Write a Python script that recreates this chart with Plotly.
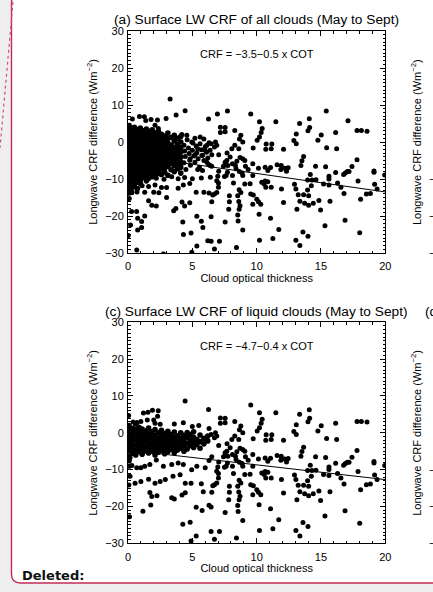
import plotly.graph_objects as go

W, H = 433, 592
FONT = "Liberation Sans, Arial, Helvetica, sans-serif"

# ---------------- data ----------------
titles = ["(a) Surface LW CRF of all clouds (May to Sept)",
          "(c) Surface LW CRF of liquid clouds (May to Sept)"]
fit_labels = ["CRF = \u22123.5\u22120.5 x COT", "CRF = \u22124.7\u22120.4 x COT"]
intercepts = [-3.5, -4.7]
slopes = [-0.5, -0.4]
x_ticks = [0, 5, 10, 15, 20]
y_ticks = [-30, -20, -10, 0, 10, 20, 30]

# points with COT > ~6.4 common to both panels
pts_shared = [
    (9.54, 7.56), (10.22, 5.47), (11.49, 5.47), (7.55, 3.92), (7.18, 4.01), (8.30, 3.10), (7.18, 2.56),
    (7.55, 2.74), (8.77, 1.83), (10.43, 3.65), (10.35, 2.56), (10.22, 1.38), (10.04, 0.47), (12.89, 0.38),
    (8.66, 0.83), (8.92, 0.01), (8.30, -0.90), (6.90, -0.90), (6.46, -0.44), (6.80, 0.01), (6.72, -1.35),
    (8.07, -1.81), (8.61, -1.81), (9.73, -1.62), (10.74, -0.53), (11.18, -0.53), (11.13, -1.81),
    (12.09, -1.99), (10.71, -1.99), (7.05, -3.44), (7.70, -2.99), (7.94, -4.08), (7.68, -4.99),
    (8.71, -4.17), (8.92, -4.53), (9.08, -4.99), (8.46, -5.17), (7.55, -5.44), (7.55, -6.08),
    (7.42, -6.53), (7.76, -6.35), (8.12, -5.90), (8.35, -6.35), (8.40, -7.26), (8.66, -7.99),
    (8.87, -8.35), (9.13, -6.53), (9.34, -7.44), (9.70, -5.90), (10.14, -7.08), (10.66, -6.81),
    (10.87, -7.72), (11.08, -6.90), (11.59, -6.17), (11.91, -6.35), (11.88, -7.44), (12.19, -7.08),
    (12.45, -6.99), (12.32, -7.90), (6.51, -6.53), (7.05, -7.90), (7.50, -9.35), (6.98, -9.26),
    (7.63, -9.08), (8.12, -9.08), (7.73, -8.17), (8.92, -9.08), (9.49, -11.26), (9.70, -9.08),
    (9.08, -11.35), (10.40, -10.90), (10.66, -10.53), (10.58, -11.35), (10.71, -12.26), (11.13, -12.26),
    (10.87, -10.71), (11.93, -12.71), (12.94, -11.44), (13.05, -12.71), (6.90, -10.44), (7.03, -11.08),
    (7.03, -12.26), (6.90, -13.62), (6.72, -14.08), (6.59, -14.35), (8.20, -11.08), (8.64, -12.90),
    (8.77, -13.62), (7.88, -14.53), (8.53, -14.53), (8.61, -16.08), (9.54, -14.08), (9.75, -14.35),
    (10.01, -15.44), (10.14, -16.17), (10.32, -16.81), (9.70, -16.81), (7.88, -16.17), (6.51, -16.17),
    (7.83, -18.17), (8.71, -17.26), (8.64, -18.17), (8.53, -19.71), (10.19, -19.53), (11.08, -20.62),
    (12.09, -16.35), (7.55, -21.62), (8.56, -21.35), (8.92, -23.81), (11.72, -23.62), (6.46, -20.17),
    (6.46, -26.80), (7.11, -26.80), (10.22, -26.53), (11.26, -26.08), (6.72, -28.90), (8.43, -28.53),
    (17.80, 3.10), (18.14, 3.10), (18.58, 2.92), (14.09, 6.29), (14.12, 3.92), (13.99, 3.01),
    (13.34, 5.01), (13.08, 2.19), (13.08, -0.44), (15.02, 1.92), (14.76, 0.47), (16.14, 2.56),
    (15.44, -1.53), (16.22, -1.81), (13.65, -3.90), (13.52, -5.08), (13.44, -6.35), (17.80, -4.81),
    (14.58, -6.53), (15.36, -6.71), (14.17, -8.81), (16.14, -8.26), (15.62, -9.26), (15.62, -9.99),
    (15.62, -11.62), (16.76, -8.81), (16.89, -8.35), (17.05, -7.99), (17.18, -7.99), (17.41, -6.62),
    (19.12, -7.81), (19.12, -8.17), (19.95, -8.90), (13.96, -10.26), (14.30, -10.26), (14.61, -10.17),
    (17.88, -10.53), (14.25, -11.80), (15.20, -11.35), (16.29, -11.08), (16.55, -12.26), (19.17, -11.44),
    (19.36, -12.71), (13.96, -12.99), (13.65, -14.26), (13.23, -14.26), (14.04, -14.53), (16.79, -13.90),
    (18.53, -14.08), (18.84, -13.90), (18.08, -15.44), (13.36, -15.99), (13.73, -16.53), (14.04, -17.08),
    (14.40, -16.53), (14.84, -15.81), (15.70, -15.99), (13.13, -18.17), (14.97, -18.35), (16.87, -21.17),
    (15.31, -22.62), (18.01, -24.53), (13.60, -24.35), (13.99, -25.44), (13.05, -26.53), (13.36, -27.99),
]

# panel (a): extra points only found there
pts_a_extra = [
    (15.41, 8.38), (17.10, 5.74), (7.73, 8.38), (6.95, 7.56),
    (3.27, 11.65), (4.44, 8.47), (3.74, 7.29), (0.89, 6.92), (1.27, 6.83), (1.79, 6.10), (2.29, 5.92),
    (2.96, 6.38), (1.38, 5.83), (0.34, 6.19), (0.11, 4.56), (2.10, 4.56), (2.36, 3.65), (1.85, 3.29),
    (6.26, 6.19), (4.18, 2.01), (4.57, 1.83), (3.79, 1.10), (4.96, -0.01), (5.61, 1.38), (6.13, -0.90),
    (5.42, -1.81), (5.99, -2.26), (6.38, -2.26), (5.22, -3.44), (5.74, -3.62), (6.51, -3.44),
    (4.83, -4.53), (6.13, -5.44), (6.38, -6.35), (5.42, -7.44), (5.79, -7.72),
    (4.35, -0.9), (4.40, -2.4), (4.45, -3.9), (4.35, -5.6), (4.50, -7.4), (4.60, 0.6), (4.70, -1.6),
    (4.75, -3.1), (4.80, -4.9), (4.85, -6.3), (5.00, -2.2), (5.05, -0.3), (5.10, -3.8), (5.20, -5.5),
    (5.30, -1.1), (5.35, -2.9), (5.45, -4.5), (5.55, -6.8), (5.60, -0.5), (5.70, -2.1), (5.80, -3.6),
    (5.90, -5.0), (6.00, -1.3), (6.10, -2.8), (6.20, -4.3), (6.30, -0.2), (6.25, -6.0), (5.20, 1.0),
    (5.90, 0.8),
    (0.5, -10.6), (1.0, -10.2), (1.6, -9.9), (2.2, -9.8), (2.8, -10.1), (3.4, -9.4), (3.9, -9.9),
    (4.4, -9.6), (5.0, -9.9), (5.7, -9.7), (6.4, -9.5),
    (0.2, -11.5), (0.65, -11.0), (1.1, -11.8), (1.6, -12.0), (2.1, -11.6), (2.6, -12.3), (3.0, -12.3),
    (3.9, -12.5), (4.3, -11.6), (4.8, -11.2), (5.3, -13.6), (5.9, -13.6), (6.3, -13.8),
    (0.3, -13.7), (0.7, -13.5), (1.3, -13.6), (2.0, -13.6), (2.4, -13.7),
    (0.1, -15.3), (1.6, -15.9), (1.85, -17.1), (2.2, -17.3), (3.0, -15.0), (4.2, -16.2), (4.4, -17.3),
    (4.8, -16.4), (0.28, -18.8), (0.67, -18.8), (1.3, -20.0), (3.55, -18.6), (3.72, -18.0),
    (0.75, -20.6), (1.06, -21.5), (4.26, -21.6), (5.35, -20.1), (5.7, -21.4),
    (0.2, -22.4), (0.75, -23.8), (1.06, -23.1), (5.82, -23.1),
    (4.9, -24.6), (4.31, -25.0), (0.02, -25.3),
    (6.2, -26.7), (5.35, -28.1), (0.68, -29.2), (2.75, -30.3), (4.96, -29.8),
]

# panel (a): dense cloud at small COT, (COT, [CRF values])
dense_a = [
    (0.06, [4.2, 3.1, 2.0, 0.8, -0.3, -1.4, -2.6, -3.7, -4.8, -5.9, -7.1, -8.2, -9.3, -10.4, -11.6, -12.7, -13.8]),
    (0.28, [3.6, 2.5, 1.3, 0.2, -0.9, -2.0, -3.1, -4.2, -5.4, -6.5, -7.6, -8.8, -9.9, -11.0, -12.2, -13.4]),
    (0.50, [4.0, 2.9, 1.7, 0.6, -0.5, -1.7, -2.8, -3.9, -5.0, -6.2, -7.3, -8.4, -9.6, -10.8, -12.1]),
    (0.73, [3.3, 2.2, 1.0, -0.1, -1.2, -2.3, -3.5, -4.6, -5.7, -6.9, -8.0, -9.1, -10.3, -12.6]),
    (0.96, [3.8, 2.6, 1.5, 0.3, -0.8, -1.9, -3.0, -4.2, -5.3, -6.4, -7.6, -8.7, -9.8, -11.2]),
    (1.19, [3.0, 1.9, 0.8, -0.4, -1.5, -2.6, -3.8, -4.9, -6.0, -7.2, -8.3, -9.5]),
    (1.43, [3.5, 2.3, 1.2, 0.0, -1.1, -2.2, -3.4, -4.5, -5.6, -6.8, -7.9, -9.0, -10.5]),
    (1.66, [2.8, 1.6, 0.5, -0.6, -1.8, -2.9, -4.0, -5.2, -6.3, -7.4, -8.6]),
    (1.89, [3.2, 2.0, 0.9, -0.2, -1.3, -2.5, -3.6, -4.7, -5.9, -7.0, -8.1, -9.4]),
    (2.13, [2.5, 1.3, 0.1, -1.0, -2.1, -3.3, -4.4, -5.5, -6.7, -7.8, -9.0]),
    (2.36, [2.9, 1.7, 0.4, -0.7, -1.9, -3.0, -4.1, -5.3, -6.4, -7.6, -8.5]),
    (2.60, [2.1, 0.8, -0.5, -1.6, -2.8, -4.0, -5.1, -6.1, -7.3, -8.8]),
    (2.85, [1.6, 0.2, -1.2, -2.4, -3.5, -4.8, -6.0, -7.0, -8.2]),
    (3.10, [2.4, 1.0, -0.3, -1.8, -3.0, -4.3, -5.5, -6.6, -9.0]),
    (3.35, [1.2, -0.8, -2.1, -3.4, -4.6, -5.8, -7.5]),
    (3.60, [1.8, 0.3, -1.4, -2.7, -3.9, -5.2, -6.4, -8.0]),
    (3.85, [0.9, -0.6, -2.0, -3.3, -4.5, -6.0, -7.2]),
    (4.10, [1.5, 0.0, -1.5, -2.8, -4.1, -5.5, -6.8, -8.4]),
]

# panel (c): extra points at small COT
pts_c_extra = [
    (0.05, 4.7), (0.4, 2.9), (0.7, 2.8), (1.0, 3.1), (1.2, 5.4), (1.5, 3.5), (1.55, 5.6), (1.9, 6.1),
    (2.0, 3.5), (2.3, 4.5), (2.35, 6.0), (2.1, 2.6), (2.5, 2.3), (3.6, 2.4), (4.3, 2.7), (4.44, 8.6),
    (5.0, 1.7), (5.5, 2.0), (6.26, 6.3), (6.3, 1.2),
    (0.16, -6.8), (0.11, -9.1), (0.68, -9.5), (1.0, -9.5), (1.3, -9.1), (1.7, -8.6), (2.2, -7.4),
    (2.75, -9.1), (3.4, -8.6), (3.9, -8.2), (4.3, -8.6), (4.95, -10.0), (5.35, -9.1), (6.0, -9.5),
    (6.3, -7.5), (0.3, -8.9),
    (0.16, -11.8), (0.55, -13.7), (1.0, -13.2), (1.6, -12.6), (2.1, -13.7), (2.5, -13.2), (2.9, -12.7),
    (3.5, -11.8), (4.05, -11.4), (4.45, -13.7), (4.9, -13.7), (5.7, -13.8),
    (0.07, -14.2), (1.7, -16.2), (1.85, -17.3), (2.25, -17.1), (3.4, -17.6), (3.6, -18.0), (4.2, -16.9),
    (4.45, -16.3), (5.85, -16.0),
    (0.12, -22.8), (1.16, -21.3), (1.77, -19.6), (5.3, -20.2), (5.76, -21.1), (6.3, -19.7),
    (4.26, -24.8), (4.83, -24.3), (4.9, -29.4), (5.3, -28.0),
]

dense_c = [
    (0.08, [2.0, 0.6, -0.8, -2.1, -3.5, -4.8, -6.3, -7.6]),
    (0.35, [1.2, -0.2, -1.5, -2.9, -4.2, -5.6]),
    (0.60, [2.4, 0.8, -0.6, -1.9, -3.3, -4.6, -6.0]),
    (0.85, [1.5, 0.1, -1.2, -2.6, -3.9, -5.1]),
    (1.10, [1.0, -0.4, -1.8, -3.1, -4.4, -5.8]),
    (1.35, [0.5, -0.9, -2.2, -3.6, -4.9]),
    (1.60, [1.3, -0.1, -1.4, -2.8, -4.1, -5.5]),
    (1.85, [0.3, -1.0, -2.4, -3.7, -5.0]),
    (2.10, [0.9, -0.6, -1.9, -3.2, -4.6, -6.0]),
    (2.35, [0.0, -1.4, -2.7, -4.0, -5.3]),
    (2.60, [0.7, -0.8, -2.1, -3.5, -4.8]),
    (2.85, [-0.2, -1.6, -2.9, -4.3, -5.7]),
    (3.10, [0.4, -1.1, -2.4, -3.8, -5.1]),
    (3.35, [-0.5, -1.8, -3.2, -4.5]),
    (3.60, [0.2, -1.3, -2.6, -4.0, -5.4]),
    (3.85, [-0.8, -2.0, -3.4, -4.7]),
    (4.10, [0.0, -1.5, -2.8, -4.2]),
    (4.35, [-0.7, -2.2, -3.6, -5.0]),
    (4.60, [0.1, -1.3, -2.9, -4.4]),
    (4.85, [-0.5, -2.0, -3.5]),
    (5.10, [0.3, -1.2, -2.6, -4.0]),
    (5.35, [-1.8, -3.2]),
    (5.60, [-0.6, -2.4, -4.2]),
    (5.90, [-1.5, -3.0]),
    (6.20, [-0.9, -2.2]),
]


def flatten(cols):
    return [(c, v) for c, vals in cols for v in vals]


def unzip(pts):
    return [p[0] for p in pts], [p[1] for p in pts]


panels_sparse = [pts_shared + pts_a_extra, pts_shared + pts_c_extra]
panels_dense = [flatten(dense_a), flatten(dense_c)]

# ---------------- layout geometry (pixels) ----------------
X_L, X_R = 128, 385.3
ROWS = [(31, 253), (322.3, 543.3)]


def px(x):
    return x / W


def py(y):
    return 1 - y / H


fig = go.Figure()

for i in range(2):
    sx = "" if i == 0 else str(i + 1)
    for pts, size in ((panels_dense[i], 5.6), (panels_sparse[i], 5.0)):
        cx, cy = unzip(pts)
        fig.add_trace(go.Scatter(x=cx, y=cy, mode="markers", xaxis="x" + sx, yaxis="y" + sx,
                                 marker=dict(size=size, color="black", line=dict(width=0)),
                                 showlegend=False, hoverinfo="skip"))
    lx = [x_ticks[0], x_ticks[-1]]
    ly = [intercepts[i] + slopes[i] * v for v in lx]
    fig.add_trace(go.Scatter(x=lx, y=ly, mode="lines", xaxis="x" + sx, yaxis="y" + sx,
                             line=dict(color="black", width=1), showlegend=False, hoverinfo="skip"))

tickfont = dict(family=FONT, size=11, color="black")
common = dict(showline=True, linecolor="black", linewidth=1, mirror="ticks", showgrid=False,
              zeroline=False, ticks="inside", ticklen=5, tickwidth=1, tickcolor="black",
              tickfont=tickfont, automargin=False)

for i, (top, bot) in enumerate(ROWS):
    sx = "" if i == 0 else str(i + 1)
    fig.update_layout(**{
        "xaxis" + sx: dict(domain=[px(X_L), px(X_R)], range=[0, 20], tickvals=x_ticks,
                           anchor="y" + sx, ticklabelstandoff=3,
                           minor=dict(dtick=1, ticks="inside", ticklen=2.5, tickcolor="black",
                                      tickwidth=1, showgrid=False),
                           title=dict(text="Cloud optical thickness", font=dict(family=FONT, size=11, color="black"),
                                      standoff=0),
                           **common),
        "yaxis" + sx: dict(domain=[py(bot), py(top)], range=[-30, 30], tickvals=y_ticks,
                           anchor="x" + sx, ticklabelstandoff=1,
                           minor=dict(dtick=1, ticks="inside", ticklen=2.5, tickcolor="black",
                                      tickwidth=1, showgrid=False),
                           title=dict(text="Longwave CRF difference (Wm<sup>\u22122</sup>)",
                                      font=dict(family=FONT, size=11, color="black"), standoff=5),
                           **common),
    })

ann = []
title_y = [20, 311]
for i in range(2):
    sx = "" if i == 0 else str(i + 1)
    ann.append(dict(text=titles[i], x=px(256.5), y=py(title_y[i]), xref="paper", yref="paper",
                    xanchor="center", yanchor="middle", showarrow=False,
                    font=dict(family=FONT, size=13.7, color="black")))
    ann.append(dict(text=fit_labels[i], x=10, y=23.7, xref="x" + sx, yref="y" + sx,
                    xanchor="center", yanchor="middle", showarrow=False,
                    font=dict(family=FONT, size=11, color="black")))
    # neighbouring (cut-off) panel on the right
    top, bot = ROWS[i]
    mid = (top + bot) / 2
    ann.append(dict(text="Longwave CRF difference (Wm<sup>\u22122</sup>)", x=px(416), y=py(mid),
                    xref="paper", yref="paper", textangle=-90, xanchor="center", yanchor="middle",
                    showarrow=False, font=dict(family=FONT, size=11, color="black")))
    for k in (1, 2, 3):
        yy = mid + k * (bot - top) / 6
        ann.append(dict(text="\u2212%d0" % k, x=px(426.5), y=py(yy), xref="paper", yref="paper",
                        xanchor="left", yanchor="middle", showarrow=False,
                        font=dict(family=FONT, size=11, color="black")))

ann.append(dict(text="(d) Surface LW CRF of ice clouds (May to Sept)", x=px(422.5), y=py(311),
                xref="paper", yref="paper", xanchor="left", yanchor="middle", showarrow=False,
                font=dict(family=FONT, size=13.7, color="black")))
ann.append(dict(text="<b>Deleted:</b>", x=px(19.5), y=py(575), xref="paper", yref="paper",
                xanchor="left", yanchor="middle", showarrow=False,
                font=dict(family="DejaVu Sans, Verdana, sans-serif", size=13, color="#111111")))

# rounded red frame of the comment box
L_, T_, R_, B_, r = 11.5, -6, 450, 583, 9


def P(x, y):
    return f"{px(x):.5f},{py(y):.5f}"


frame = (f"M{P(L_, T_ + r)} L{P(L_, B_ - r)} Q{P(L_, B_)} {P(L_ + r, B_)} L{P(R_, B_)} "
         f"L{P(R_, T_)} L{P(L_ + r, T_)} Q{P(L_, T_)} {P(L_, T_ + r)} Z")

shapes = [
    dict(type="path", path=frame, xref="paper", yref="paper", layer="below",
         fillcolor="white", line=dict(color="#c42d55", width=1.4)),
    dict(type="line", x0=px(13), y0=py(2), x1=px(0), y1=py(148), xref="paper", yref="paper",
         line=dict(color="#d0507a", width=1.2, dash="dot")),
]

fig.update_layout(width=W, height=H, autosize=False, margin=dict(l=0, r=0, t=0, b=0),
                  paper_bgcolor="#efefef", plot_bgcolor="rgba(0,0,0,0)",
                  annotations=ann, shapes=shapes, showlegend=False,
                  font=dict(family=FONT, size=11, color="black"))

fig.write_html("out.html")
